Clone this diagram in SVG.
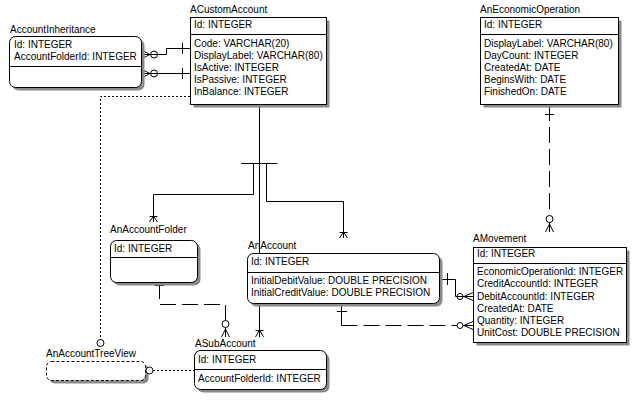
<svg xmlns="http://www.w3.org/2000/svg" width="638" height="403" viewBox="0 0 638 403">
<style>
.t{font-family:"Liberation Sans",Arial,sans-serif;font-size:10px;fill:#000}
.box{fill:#fff;stroke:#000;stroke-width:1}
.sh{fill:#8a8a8a}
.sep{stroke:#000;stroke-width:1}
.ln{fill:none;stroke:#000;stroke-width:1}
.dash{stroke-dasharray:16 6}
.dot{stroke-dasharray:2 2}
.c{fill:none;stroke:#000;stroke-width:1}
</style>
<rect width="638" height="403" fill="#fff"/>
<g id="connectors">
  <!-- AccountInheritance - ACustomAccount (upper) -->
  <path class="ln" d="M142,54.5 H166.5 V48.5 H190"/>
  <path class="ln" d="M182.5,43 V54"/>
  <path class="ln" d="M142,50.5 L150,54.5 L142,58.5"/>
  <circle class="c" cx="154" cy="54.5" r="3.5"/>
  <!-- AccountInheritance - ACustomAccount (lower) -->
  <path class="ln" d="M142,73.5 H190"/>
  <path class="ln" d="M182.5,68 V79"/>
  <path class="ln" d="M142,69.5 L150,73.5 L142,77.5"/>
  <circle class="c" cx="154" cy="73.5" r="3.5"/>
  <!-- ACustomAccount - AnAccountTreeView (dotted) -->
  <path class="ln dot" d="M190,96.5 H100.5 V339.5"/>
  <circle cx="100.5" cy="343" r="3.5" fill="#fff" stroke="#000"/>
  <!-- ACustomAccount subtypes -->
  <path class="ln" d="M259.5,105 V337"/>
  <path class="ln" d="M241,163.5 H277"/>
  <path class="ln" d="M253.5,163.5 V194.5 H153.5 V222"/>
  <path class="ln" d="M266.5,163.5 V201.5 H343.5 V238"/>
  <path class="ln" d="M149.5,222 L153.5,216 L157.5,222 M149.5,216.5 H157.5"/>
  <path class="ln" d="M339.5,238 L343.5,232 L347.5,238 M339.5,232.5 H347.5"/>
  <path class="ln" d="M255.5,337 L259.5,330 L263.5,337 M255.5,330.5 H263.5"/>
  <!-- AnAccountFolder - ASubAccount (dashed) -->
  <path class="ln dash" d="M159.5,283 V304.5 H225.5 V320.5"/>
  <path class="ln" d="M155,285.5 H164"/>
  <circle class="c" cx="225.5" cy="324" r="3.5"/>
  <path class="ln" d="M225.5,327.5 V337 M221.5,337 L225.5,329 L229.5,337"/>
  <!-- AnAccount - AMovement (solid) -->
  <path class="ln" d="M440,279.5 H455.5 V296.5 H473"/>
  <path class="ln" d="M447.5,273 V285"/>
  <circle class="c" cx="460" cy="296.5" r="3"/>
  <path class="ln" d="M473,292.5 L464,296.5 L473,300.5"/>
  <!-- AnAccount - AMovement (dashed) -->
  <path class="ln" d="M341.5,304 V325.5"/>
  <path class="ln dash" d="M341.5,325.5 H457"/>
  <path class="ln" d="M463,325.5 H473"/>
  <path class="ln" d="M337,311.5 H347"/>
  <circle class="c" cx="460" cy="325.5" r="3"/>
  <path class="ln" d="M473,321.5 L464,325.5 L473,329.5"/>
  <!-- AnEconomicOperation - AMovement (dashed) -->
  <path class="ln dash" d="M549.5,105 V215.5"/>
  <path class="ln" d="M545,114.5 H554"/>
  <circle class="c" cx="549.5" cy="219" r="3.5"/>
  <path class="ln" d="M549.5,222.5 V232 M545.5,232 L549.5,224 L553.5,232"/>
</g>
<g id="AccountInheritance">
  <rect class="sh" x="12.5" y="39.5" width="132" height="51" rx="6"/>
  <rect class="box" x="9.5" y="36.5" width="132" height="51" rx="6"/>
  <line class="sep" x1="9.5" y1="66.5" x2="141.5" y2="66.5"/>
  <text class="t" x="10" y="33">AccountInheritance</text>
  <text class="t" x="14" y="48">Id: INTEGER</text>
  <text class="t" x="14" y="60">AccountFolderId: INTEGER</text>
</g>
<g id="ACustomAccount">
  <rect class="sh" x="193.5" y="20.5" width="136" height="87"/>
  <rect class="box" x="190.5" y="17.5" width="136" height="87"/>
  <line class="sep" x1="190.5" y1="34.5" x2="326.5" y2="34.5"/>
  <text class="t" x="190" y="13">ACustomAccount</text>
  <text class="t" x="194" y="28">Id: INTEGER</text>
  <text class="t" x="194" y="47">Code: VARCHAR(20)</text>
  <text class="t" x="194" y="59">DisplayLabel: VARCHAR(80)</text>
  <text class="t" x="194" y="71">IsActive: INTEGER</text>
  <text class="t" x="194" y="83">IsPassive: INTEGER</text>
  <text class="t" x="194" y="95">InBalance: INTEGER</text>
</g>
<g id="AnEconomicOperation">
  <rect class="sh" x="483.5" y="20.5" width="138" height="87"/>
  <rect class="box" x="480.5" y="17.5" width="138" height="87"/>
  <line class="sep" x1="480.5" y1="34.5" x2="618.5" y2="34.5"/>
  <text class="t" x="480" y="13">AnEconomicOperation</text>
  <text class="t" x="484" y="28">Id: INTEGER</text>
  <text class="t" x="484" y="47">DisplayLabel: VARCHAR(80)</text>
  <text class="t" x="484" y="59">DayCount: INTEGER</text>
  <text class="t" x="484" y="71">CreatedAt: DATE</text>
  <text class="t" x="484" y="83">BeginsWith: DATE</text>
  <text class="t" x="484" y="95">FinishedOn: DATE</text>
</g>
<g id="AnAccountFolder">
  <rect class="sh" x="113.5" y="243.5" width="87" height="42" rx="6"/>
  <rect class="box" x="110.5" y="240.5" width="87" height="42" rx="6"/>
  <line class="sep" x1="110.5" y1="257.5" x2="197.5" y2="257.5"/>
  <text class="t" x="110" y="233">AnAccountFolder</text>
  <text class="t" x="114" y="252">Id: INTEGER</text>
</g>
<g id="AnAccount">
  <rect class="sh" x="250.5" y="256.5" width="192" height="50" rx="6"/>
  <rect class="box" x="247.5" y="253.5" width="192" height="50" rx="6"/>
  <line class="sep" x1="247.5" y1="272.5" x2="439.5" y2="272.5"/>
  <text class="t" x="248" y="249">AnAccount</text>
  <text class="t" x="251" y="265">Id: INTEGER</text>
  <text class="t" x="251" y="284">InitialDebitValue: DOUBLE PRECISION</text>
  <text class="t" x="251" y="296">InitialCreditValue: DOUBLE PRECISION</text>
</g>
<g id="AMovement">
  <rect class="sh" x="476.5" y="250.5" width="153" height="95"/>
  <rect class="box" x="473.5" y="247.5" width="153" height="95"/>
  <line class="sep" x1="473.5" y1="263.5" x2="626.5" y2="263.5"/>
  <text class="t" x="473" y="242">AMovement</text>
  <text class="t" x="477" y="257">Id: INTEGER</text>
  <text class="t" x="477" y="275">EconomicOperationId: INTEGER</text>
  <text class="t" x="477" y="287">CreditAccountId: INTEGER</text>
  <text class="t" x="477" y="299.5">DebitAccountId: INTEGER</text>
  <text class="t" x="477" y="311.5">CreatedAt: DATE</text>
  <text class="t" x="477" y="324">Quantity: INTEGER</text>
  <text class="t" x="477" y="336">UnitCost: DOUBLE PRECISION</text>
</g>
<g id="ASubAccount">
  <rect class="sh" x="197.5" y="353.5" width="132" height="39" rx="6"/>
  <rect class="box" x="194.5" y="350.5" width="132" height="39" rx="6"/>
  <line class="sep" x1="194.5" y1="369.5" x2="326.5" y2="369.5"/>
  <text class="t" x="195" y="347">ASubAccount</text>
  <text class="t" x="198" y="363">Id: INTEGER</text>
  <text class="t" x="198" y="382">AccountFolderId: INTEGER</text>
</g>
<g id="AnAccountTreeView">
  <rect class="sh" x="49.5" y="364.5" width="99" height="19" rx="5"/>
  <rect class="box" x="46.5" y="361.5" width="99" height="19" rx="5" stroke-dasharray="3 2"/>
  <text class="t" x="46" y="357">AnAccountTreeView</text>
  <path class="ln dot" d="M153,370.5 H194"/>
  <circle cx="149.5" cy="370.5" r="3.5" fill="#fff" stroke="#000"/>
</g>
</svg>
